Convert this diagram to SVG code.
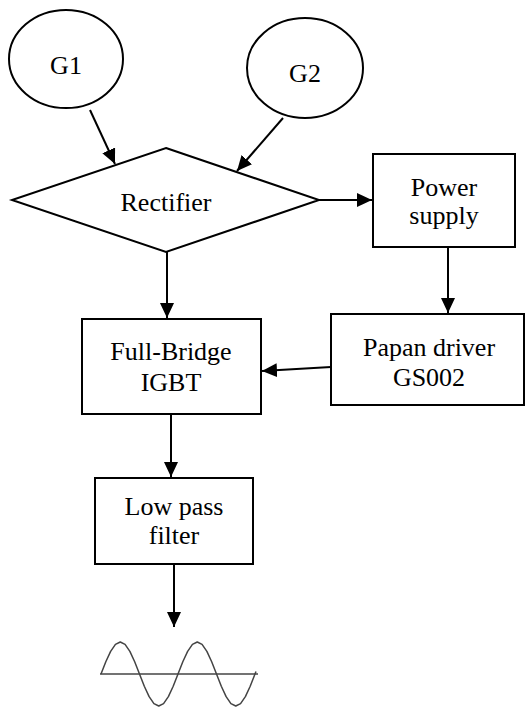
<svg xmlns="http://www.w3.org/2000/svg" width="525" height="707" viewBox="0 0 525 707">
<style>
.shape{fill:#fff;stroke:#000;stroke-width:2}
.lbl{font-size:26px;fill:#000;text-anchor:middle}
.conn{stroke:#000;stroke-width:2;fill:none;marker-end:url(#ah)}
.wave{stroke:#444;stroke-width:1.5;fill:none;stroke-linejoin:round}
</style>
<defs>
<marker id="ah" markerUnits="userSpaceOnUse" markerWidth="16" markerHeight="14" refX="15" refY="7" orient="auto">
<path d="M0,0 L15,7 L0,14 Z" fill="#000"/>
</marker>
</defs>
<rect width="525" height="707" fill="#fff"/>
<g font-family="'Liberation Serif', 'Times New Roman', Times, serif">
<g id="G1"><ellipse class="shape" cx="66" cy="59" rx="57" ry="49"/><text class="lbl" x="66" y="74">G1</text></g>
<g id="G2"><ellipse class="shape" cx="305" cy="68" rx="58" ry="50"/><text class="lbl" x="305" y="82">G2</text></g>
<g id="rectifier"><polygon class="shape" points="166,148 319,200 166,252 12,200"/><text class="lbl" x="166" y="211">Rectifier</text></g>
<g id="power-supply"><rect class="shape" x="373" y="154" width="142" height="93"/><text class="lbl" x="444" y="196">Power</text><text class="lbl" x="444" y="224">supply</text></g>
<g id="papan-driver"><rect class="shape" x="331" y="314" width="193" height="91"/><text class="lbl" x="429" y="356">Papan driver</text><text class="lbl" x="429" y="386">GS002</text></g>
<g id="full-bridge"><rect class="shape" x="82" y="319" width="179" height="95"/><text class="lbl" x="171" y="360">Full-Bridge</text><text class="lbl" x="171" y="391">IGBT</text></g>
<g id="low-pass"><rect class="shape" x="95" y="478" width="158" height="86"/><text class="lbl" x="174" y="515">Low pass</text><text class="lbl" x="174" y="544">filter</text></g>
</g>
<g id="sine-output">
<line x1="100" y1="674" x2="258" y2="674" stroke="#444" stroke-width="1.5"/>
<polyline class="wave" points="101,674 105.81,661.75 110.63,651.37 115.44,644.44 120.25,642 125.06,644.44 129.88,651.37 134.69,661.75 139.5,674 144.31,686.25 149.13,696.63 153.94,703.56 158.75,706 163.56,703.56 168.38,696.63 173.19,686.25 178,674 182.81,661.75 187.63,651.37 192.44,644.44 197.25,642 202.06,644.44 206.88,651.37 211.69,661.75 216.5,674 221.31,686.25 226.13,696.63 230.94,703.56 235.75,706 240.56,703.56 245.38,696.63 250.19,686.25 255,674 256,671.4"/>
</g>
<g id="connectors">
<line class="conn" x1="90" y1="110" x2="115" y2="164"/>
<line class="conn" x1="283" y1="118" x2="237" y2="171"/>
<line class="conn" x1="319" y1="200" x2="372" y2="200"/>
<line class="conn" x1="448" y1="247" x2="448" y2="313"/>
<line class="conn" x1="167" y1="252" x2="167" y2="318"/>
<line class="conn" x1="331" y1="367" x2="262" y2="371"/>
<line class="conn" x1="171" y1="414" x2="171" y2="477"/>
<line class="conn" x1="174" y1="564" x2="174" y2="627"/>
</g>
</svg>
